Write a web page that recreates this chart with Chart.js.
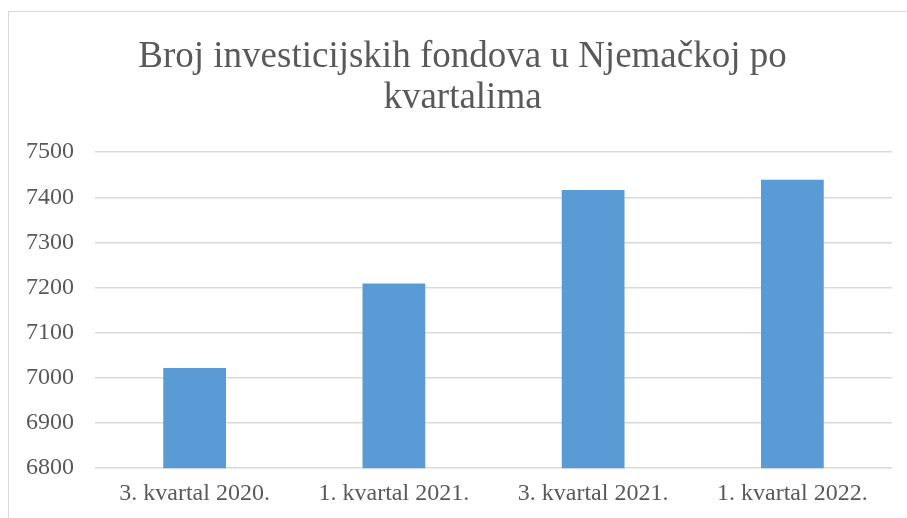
<!DOCTYPE html>
<html>
<head>
<meta charset="utf-8">
<script src="https://cdn.jsdelivr.net/npm/chart.js@4"></script>
<style>
  html, body { margin: 0; padding: 0; background: #fff; }
  #frame { position: absolute; left: 8px; top: 11px; width: 920px; height: 530px; border: 1px solid #d9d9d9; }
  #wrap { position: absolute; left: 0; top: 0; width: 907px; height: 518px; }
</style>
</head>
<body>
<div id="frame"></div>
<div id="wrap"><canvas id="barChart" width="907" height="518"></canvas></div>
<script>
const categories = ["3. kvartal 2020.", "1. kvartal 2021.", "3. kvartal 2021.", "1. kvartal 2022."];
const fundCounts = [7022, 7209, 7416, 7439];
const yTickValues = [6800, 6900, 7000, 7100, 7200, 7300, 7400, 7500];
const titleLines = ["Broj investicijskih fondova u Njemačkoj po", "kvartalima"];

const serif = '"Liberation Serif", "Times New Roman", serif';
const textGray = '#595959';
const gridGray = '#d9d9d9';

let ctx = document.getElementById('barChart');

// the title in the picture sits a bit right of the layout centre
const titleShift = {
  id: 'titleShift',
  afterLayout(chart) {
    if (chart.titleBlock) {
      chart.titleBlock.left += 14;
      chart.titleBlock.right += 14;
    }
  }
};

const config = {
  type: 'bar',
  data: {
    labels: categories,
    datasets: [{
      data: fundCounts,
      backgroundColor: '#5b9bd5',
      borderWidth: 0,
      categoryPercentage: 1,
      barPercentage: 0.315
    }]
  },
  options: {
    responsive: false,
    animation: false,
    layout: {
      padding: { top: 0, left: 5, right: 15, bottom: 7 }
    },
    plugins: {
      legend: { display: false },
      tooltip: { enabled: false },
      title: {
        display: true,
        text: titleLines,
        color: textGray,
        font: { family: serif, size: 37, weight: 'normal', lineHeight: 1.124 },
        padding: { top: 36, bottom: 33 }
      }
    },
    scales: {
      x: {
        grid: { display: false },
        border: { display: false },
        ticks: {
          color: textGray,
          font: { family: serif, size: 24 },
          padding: 3,
          maxRotation: 0
        }
      },
      y: {
        min: yTickValues[0],
        max: yTickValues[yTickValues.length - 1],
        afterBuildTicks: (scale) => {
          scale.ticks = yTickValues.map((v) => ({ value: v }));
        },
        grid: { color: gridGray, lineWidth: 1.5, drawTicks: false },
        border: { display: false },
        ticks: {
          color: textGray,
          font: { family: serif, size: 24 },
          padding: 21,
          callback: (value) => String(value)
        }
      }
    }
  },
  plugins: [titleShift]
};

const myChart = new Chart(ctx, config);
</script>
</body>
</html>
